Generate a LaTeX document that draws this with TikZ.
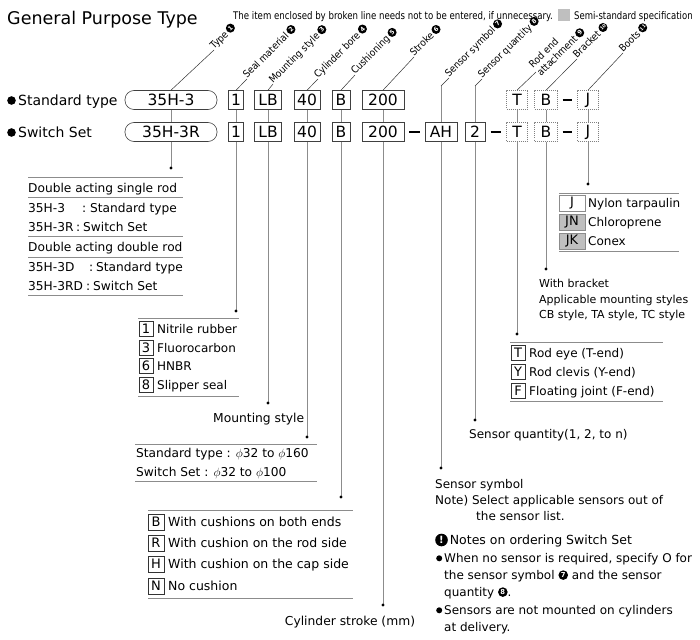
\documentclass[tikz,border=0pt]{standalone}
\usepackage{fontspec}
\setmainfont{DejaVu Sans}
\newfontfamily\dvs{DejaVu Sans}
\newfontfamily\condfont[FakeStretch=0.82]{DejaVu Sans}
\newfontfamily\legfont[FakeStretch=0.81]{DejaVu Sans}
\newfontfamily\labfont[FakeStretch=0.9]{DejaVu Sans}
\usetikzlibrary{calc}
\newcommand\fs[1]{\fontsize{#1}{#1}\selectfont}
% #1 radius, #2 centre height above baseline, #3 font size, #4 text
\newcommand\cnm[4]{\tikz[x=1pt,y=1pt,baseline=0pt]{\fill[black] (#1,#2) circle (#1);\node[text=white,inner sep=0,outer sep=0,anchor=center,font=\dvs\bfseries\fontsize{#3}{#3}\selectfont] at (#1,#2) {#4};}}
\newcommand\lnum[1]{\,\cnm{4.5}{3.9}{6}{#1}}
\newcommand\lnumw[1]{\,\cnm{4.5}{3.9}{4.6}{#1}}
\newcommand\inum[1]{\cnm{4.8}{4.4}{6.8}{#1}}
\newcommand\bul[2]{\cnm{#1}{#2}{1}{}}
\begin{document}
\begin{tikzpicture}[x=1pt,y=-1pt,
  conn/.style={draw=black!45, line width=0.9pt},
  lead/.style={draw=black!80, line width=0.5pt},
  rule/.style={draw=black!45, line width=0.8pt},
  sep/.style={draw=black, line width=1.2pt},
  sbox/.style={draw=black!75, line width=0.6pt, minimum height=19, inner sep=0, font=\fs{15.5}},
  dbox/.style={sbox, draw=black!50, dash pattern=on 1pt off 1pt},
  capsule/.style={sbox, rounded corners=9, minimum width=92},
  txt/.style={anchor=base west, inner sep=0, font=\fs{12}},
  ibox/.style={draw=black!80, line width=0.6pt, inner sep=0, minimum width=14, minimum height=15, font=\fs{13}},
  gbox/.style={draw=black!45, line width=0.6pt, inner sep=0, minimum width=26, minimum height=16, font=\fs{13}},
  lab/.style={anchor=base west, rotate=45, inner sep=0, font=\labfont\fs{10}},
]
\useasboundingbox (0,0) rectangle (700,639);

% title and legend
\node[anchor=base west, inner sep=0, font=\fs{17.5}] (title) at (7,25) {General Purpose Type};
\node[anchor=base west, inner sep=0, font=\condfont\fs{10.5}] (note) at (233,19.5) {The item enclosed by broken line needs not to be entered, if unnecessary.};
\node[fill=black!25, inner sep=0, minimum size=12] (legsq) at (563.5,15.5) {};
\node[anchor=base west, inner sep=0, font=\legfont\fs{10.5}] (legtx) at (574,19.5) {Semi-standard specification};

% row labels
\node[anchor=base west, inner sep=0, font=\fs{14}] (rl1) at (7,105.5) {\bul{4.3}{5}\,Standard type};
\node[anchor=base west, inner sep=0, font=\fs{14}] (rl2) at (7,137.5) {\bul{4.3}{5}\,Switch Set};

% row 1 boxes
\node[capsule] (cap1) at (171,100) {35H-3};
\node[sbox, minimum width=15] (sa1) at (236,100) {1};
\node[sbox, minimum width=27] (mo1) at (268,100) {LB};
\node[sbox, minimum width=26] (bo1) at (307,100) {40};
\node[sbox, minimum width=18] (cu1) at (341,100) {B};
\node[sbox, minimum width=42] (st1) at (383,100) {200};
\node[dbox, minimum width=21] (ro1) at (517,100) {T};
\node[dbox, minimum width=23] (br1) at (546,100) {B};
\node[dbox, minimum width=21] (bt1) at (588,100) {J};
% row 2 boxes
\node[capsule] (cap2) at (171,132) {35H-3R};
\node[sbox, minimum width=15] (sa2) at (236,132) {1};
\node[sbox, minimum width=27] (mo2) at (268,132) {LB};
\node[sbox, minimum width=26] (bo2) at (307,132) {40};
\node[sbox, minimum width=18] (cu2) at (341,132) {B};
\node[sbox, minimum width=42] (st2) at (383,132) {200};
\node[sbox, minimum width=32] (ss2) at (441,132) {AH};
\node[sbox, minimum width=20] (sq2) at (475,132) {2};
\node[dbox, minimum width=21] (ro2) at (517,132) {T};
\node[dbox, minimum width=23] (br2) at (546,132) {B};
\node[dbox, minimum width=21] (bt2) at (588,132) {J};

% dashes
\draw[sep] ($(br1.east)!0.25!(bt1.west)$) -- ($(br1.east)!0.75!(bt1.west)$);
\draw[sep] ($(st2.east)!0.25!(ss2.west)$) -- ($(st2.east)!0.75!(ss2.west)$);
\draw[sep] ($(sq2.east)!0.25!(ro2.west)$) -- ($(sq2.east)!0.75!(ro2.west)$);
\draw[sep] ($(br2.east)!0.25!(bt2.west)$) -- ($(br2.east)!0.75!(bt2.west)$);

% header labels
\coordinate (hT) at (214,50);
\coordinate (hSa) at (247,79);
\coordinate (hMo) at (273,84);
\coordinate (hBo) at (318,79);
\coordinate (hCu) at (355,75);
\coordinate (hSt) at (414,57);
\coordinate (kSs) at (441,86);
\coordinate (hSs) at (449,78);
\coordinate (kSq) at (475,86);
\coordinate (hSq) at (482,79);
\coordinate (hRo) at (536,72);
\coordinate (hBr) at (577,59);
\coordinate (hBt) at (623,53);
\draw[lead] (cap1.north) -- (hT);
\draw[lead] (sa1.north) -- (hSa);
\draw[lead] (mo1.north) -- (hMo);
\draw[lead] (bo1.north) -- (hBo);
\draw[lead] (cu1.north) -- (hCu);
\draw[lead] (st1.north) -- (hSt);
\draw[conn] (ss2.north) -- (kSs);
\draw[lead] (kSs) -- (hSs);
\draw[conn] (sq2.north) -- (kSq);
\draw[lead] (kSq) -- (hSq);
\draw[lead] (ro1.north) -- (hRo);
\draw[lead] (br1.north) -- (hBr);
\draw[lead] (bt1.north) -- (hBt);
\node[lab] (lT) at (hT) {Type\lnum{1}};
\node[lab] (lSa) at (hSa) {Seal material\lnum{2}};
\node[lab] (lMo) at (hMo) {Mounting style\lnum{3}};
\node[lab] (lBo) at (hBo) {Cylinder bore\lnum{4}};
\node[lab] (lCu) at (hCu) {Cushioning\lnum{5}};
\node[lab] (lSt) at (hSt) {Stroke\lnum{6}};
\node[lab] (lSs) at (hSs) {Sensor symbol\lnum{7}};
\node[lab] (lSq) at (hSq) {Sensor quantity\lnum{8}};
\node[lab] (lRo2) at (541,77) {attachment\lnum{9}};
\node[lab] (lRo1) at (533,69) {Rod end};
\node[lab] (lBr) at (hBr) {Bracket\lnumw{10}};
\node[lab] (lBt) at (hBt) {Boots\lnumw{11}};

% dots
\coordinate (dT) at (171,168);
\coordinate (dSa) at (236,311);
\coordinate (dMo) at (268,403);
\coordinate (dBo) at (307,437);
\coordinate (dCu) at (341,497);
\coordinate (dSt) at (383,605);
\coordinate (dSs) at (441,468);
\coordinate (dSq) at (475,420);
\coordinate (dRo) at (517,334);
\coordinate (dBr) at (546,269);
\coordinate (dBt) at (588,184);

% vertical connectors
\draw[conn] (cap1.south) -- (cap2.north);
\draw[conn] (sa1.south) -- (sa2.north);
\draw[conn] (mo1.south) -- (mo2.north);
\draw[conn] (bo1.south) -- (bo2.north);
\draw[conn] (cu1.south) -- (cu2.north);
\draw[conn] (st1.south) -- (st2.north);
\draw[conn] (ro1.south) -- (ro2.north);
\draw[conn] (br1.south) -- (br2.north);
\draw[conn] (bt1.south) -- (bt2.north);
\draw[conn] (cap2.south) -- (dT);
\draw[conn] (sa2.south) -- (dSa);
\draw[conn] (mo2.south) -- (dMo);
\draw[conn] (bo2.south) -- (dBo);
\draw[conn] (cu2.south) -- (dCu);
\draw[conn] (st2.south) -- (dSt);
\draw[conn] (ss2.south) -- (dSs);
\draw[conn] (sq2.south) -- (dSq);
\draw[conn] (ro2.south) -- (dRo);
\draw[conn] (br2.south) -- (dBr);
\draw[conn] (bt2.south) -- (dBt);
\foreach \d in {dT,dSa,dMo,dBo,dCu,dSt,dSs,dSq,dRo,dBr,dBt} \fill (\d) circle (1.7);

% Type panel
\begin{scope}[every node/.style={txt, font=\fs{12.2}}]
\draw[rule] (28,177) -- (183,177);
\draw[rule] (28,197) -- (183,197);
\draw[rule] (28,236) -- (183,236);
\draw[rule] (28,257) -- (183,257);
\draw[rule] (28,295) -- (183,295);
\node (ty1) at (28,192.5) {Double acting single rod};
\node (ty2a) at (28,212.5) {35H-3};
\node (ty2b) at (82,212.5) {:};
\node (ty2c) at (90,212.5) {Standard type};
\node (ty3a) at (28,231.5) {35H-3R};
\node (ty3b) at (76,231.5) {:};
\node (ty3c) at (83,231.5) {Switch Set};
\node (ty4) at (28,251.5) {Double acting double rod};
\node (ty5a) at (28,271.5) {35H-3D};
\node (ty5b) at (89,271.5) {:};
\node (ty5c) at (96,271.5) {Standard type};
\node (ty6a) at (28,290.5) {35H-3RD};
\node (ty6b) at (86,290.5) {:};
\node (ty6c) at (93,290.5) {Switch Set};
\end{scope}

% Seal panel
\draw[rule] (138,318) -- (239,318);
\draw[rule] (138,396) -- (239,396);
\node[ibox] (sb1) at (146,329) {1};
\node[ibox] (sb3) at (146,348) {3};
\node[ibox] (sb6) at (146,366) {6};
\node[ibox] (sb8) at (146,385) {8};
\node[txt] (se1) at (157,333.3) {Nitrile rubber};
\node[txt] (se3) at (157,352.3) {Fluorocarbon};
\node[txt] (se6) at (157,370.3) {HNBR};
\node[txt] (se8) at (157,389.3) {Slipper seal};

% Mounting style
\node[txt, font=\fs{12.3}] (mst) at (213,422.5) {Mounting style};

% Bore panel
\draw[rule] (135,444) -- (317,444);
\draw[rule] (135,481) -- (317,481);
\node[txt, font=\fs{12.2}] (bo1t) at (136,457.5) {Standard type : $\phi$32 to $\phi$160};
\node[txt, font=\fs{12.2}] (bo2t) at (136,476.5) {Switch Set : $\phi$32 to $\phi$100};

% Cushion panel
\draw[rule] (148,510) -- (353,510);
\draw[rule] (148,598) -- (353,598);
\node[ibox, minimum width=16, minimum height=16] (cb1) at (156,522) {B};
\node[ibox, minimum width=16, minimum height=16] (cb2) at (156,543) {R};
\node[ibox, minimum width=16, minimum height=16] (cb3) at (156,564) {H};
\node[ibox, minimum width=16, minimum height=16] (cb4) at (156,586) {N};
\node[txt, font=\fs{12.5}] (ct1) at (168,526.5) {With cushions on both ends};
\node[txt, font=\fs{12.5}] (ct2) at (168,547.5) {With cushion on the rod side};
\node[txt, font=\fs{12.5}] (ct3) at (168,568.5) {With cushion on the cap side};
\node[txt, font=\fs{12.5}] (ct4) at (168,590.5) {No cushion};

% Stroke
\node[anchor=base, inner sep=0, font=\fs{12.3}] (stt) at (350,625.5) {Cylinder stroke (mm)};

% Boots panel
\draw[rule] (559,193) -- (679,193);
\draw[rule] (559,251) -- (679,251);
\node[gbox] (jb1) at (572,203) {J};
\node[gbox, fill=black!25] (jb2) at (572,222) {JN};
\node[gbox, fill=black!25] (jb3) at (572,241) {JK};
\node[txt] (jt1) at (588,207.3) {Nylon tarpaulin};
\node[txt] (jt2) at (588,226.3) {Chloroprene};
\node[txt] (jt3) at (588,245.3) {Conex};

% Bracket
\node[txt, font=\fs{11}] (bk1) at (539,287) {With bracket};
\node[txt, font=\fs{11}] (bk2) at (539,303) {Applicable mounting styles};
\node[txt, font=\fs{11}] (bk3) at (539,318.5) {CB style, TA style, TC style};

% Rod end panel
\draw[rule] (510,342) -- (663,342);
\draw[rule] (510,401) -- (663,401);
\node[ibox] (rb1) at (518,353) {T};
\node[ibox] (rb2) at (518,372) {Y};
\node[ibox] (rb3) at (518,391) {F};
\node[txt] (rt1) at (529,357.3) {Rod eye (T-end)};
\node[txt] (rt2) at (529,376.3) {Rod clevis (Y-end)};
\node[txt] (rt3) at (529,395.3) {Floating joint (F-end)};

% Sensor quantity
\node[txt] (sqt) at (469,438.5) {Sensor quantity(1, 2, to n)};

% Sensor symbol + notes
\node[txt] (sst1) at (435,488.5) {Sensor symbol};
\node[txt] (sst2) at (435,504.5) {Note) Select applicable sensors out of};
\node[txt] (sst3) at (476,520.5) {the sensor list.};
\node[txt, font=\fs{12.5}] (nt0) at (435,544.5) {\cnm{6.3}{4.5}{10}{!}\,Notes on ordering Switch Set};
\node[txt] (nt1) at (436,562.5) {\bul{3}{4.2}\,When no sensor is required, specify O for};
\node[txt] (nt2) at (444,579.5) {the sensor symbol \inum{7} and the sensor};
\node[txt] (nt3) at (444,596.5) {quantity \inum{8}.};
\node[txt] (nt4) at (436,614.5) {\bul{3}{4.2}\,Sensors are not mounted on cylinders};
\node[txt] (nt5) at (444,631.5) {at delivery.};
\end{tikzpicture}
\end{document}
